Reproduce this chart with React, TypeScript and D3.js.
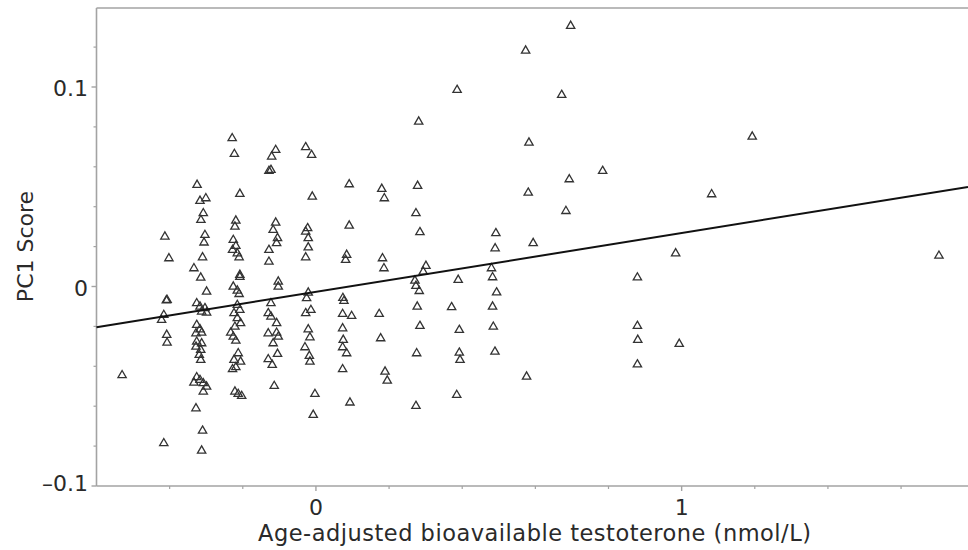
import React from "react";
import * as d3 from "d3";

// Age-adjusted bioavailable testosterone (nmol/L)
const bioT = [
  -0.530,
  -0.413, -0.402, -0.407, -0.409, -0.416, -0.422, -0.408, -0.407, -0.416,
  -0.325, -0.317, -0.301, -0.308, -0.3145, -0.3035, -0.306, -0.310, -0.3336, -0.315,
  -0.299, -0.326, -0.317, -0.3035, -0.3125, -0.299, -0.326, -0.317, -0.328, -0.3125,
  -0.326, -0.3125, -0.328, -0.315, -0.319, -0.315, -0.326, -0.317, -0.3336, -0.308,
  -0.299, -0.308, -0.328, -0.310, -0.3125,
  -0.229, -0.223, -0.208, -0.219, -0.2215, -0.226, -0.219, -0.228, -0.215, -0.210,
  -0.208, -0.208, -0.226, -0.215, -0.210, -0.215, -0.208, -0.224, -0.215, -0.206,
  -0.2215, -0.233, -0.226, -0.219, -0.2125, -0.224, -0.206, -0.219, -0.228, -0.2215,
  -0.2125, -0.203,
  -0.110, -0.121, -0.1285, -0.123, -0.110, -0.117, -0.105, -0.1075, -0.1285, -0.1285,
  -0.103, -0.103, -0.123, -0.1304, -0.123, -0.1075, -0.1304, -0.1075, -0.103, -0.117,
  -0.105, -0.1304, -0.1195, -0.114,
  -0.028, -0.0118, -0.010, -0.0227, -0.028, -0.021, -0.021, -0.028, -0.021, -0.0255,
  -0.0137, -0.028, -0.021, -0.0164, -0.030, -0.018, -0.0164, -0.0027, -0.0074,
  0.091, 0.091, 0.084, 0.0812, 0.0738, 0.0766, 0.073, 0.0976, 0.073, 0.0747,
  0.073, 0.084, 0.073, 0.093,
  0.180, 0.187, 0.182, 0.186, 0.173, 0.177, 0.189, 0.195,
  0.281, 0.278, 0.2735, 0.2844, 0.3008, 0.2934, 0.2707, 0.2735, 0.2825, 0.277,
  0.2844, 0.2754, 0.2735,
  0.386, 0.389, 0.371, 0.392, 0.392, 0.394, 0.385,
  0.492, 0.490, 0.480, 0.483, 0.494, 0.483, 0.485, 0.4895,
  0.5734, 0.5825, 0.5805, 0.594, 0.576,
  0.6965, 0.672, 0.6927, 0.6836, 0.784,
  0.879, 0.879, 0.880, 0.879, 0.9836, 0.9934, 1.082, 1.193, 1.7036,
];

// PC1 score
const pc1 = [
  -0.0445,
  0.0250, 0.0141, -0.0068, -0.0070, -0.0143, -0.0168, -0.0243, -0.0282, -0.0786,
  0.0509, 0.0429, 0.0442, 0.0367, 0.0333, 0.0258, 0.0220, 0.0146, 0.0091, 0.0044,
  -0.0026, -0.0084, -0.0101, -0.0109, -0.0126, -0.0131, -0.0193, -0.0215, -0.0235, -0.0232,
  -0.0277, -0.0285, -0.0302, -0.0318, -0.0343, -0.0368, -0.0455, -0.0469, -0.0482, -0.0485,
  -0.0502, -0.0527, -0.0611, -0.0723, -0.0823,
  0.0743, 0.0664, 0.0464, 0.0330, 0.0300, 0.0233, 0.0203, 0.0183, 0.0166, 0.0146,
  0.0058, 0.0048, -0.0001, -0.0021, -0.0038, -0.0093, -0.0118, -0.0134, -0.0159, -0.0184,
  -0.0202, -0.0232, -0.0252, -0.0272, -0.0335, -0.0368, -0.0377, -0.0405, -0.0415, -0.0527,
  -0.0539, -0.0549,
  0.0684, 0.0651, 0.0579, 0.0584, 0.0320, 0.0283, 0.0242, 0.0217, 0.0183, 0.0124,
  0.0024, -0.0001, -0.0084, -0.0134, -0.0151, -0.0184, -0.0235, -0.0232, -0.0252, -0.0285,
  -0.0338, -0.0365, -0.0393, -0.0499,
  0.0698, 0.0659, 0.0450, 0.0292, 0.0275, 0.0242, 0.0196, 0.0146, -0.0031, -0.0059,
  -0.0118, -0.0134, -0.0215, -0.0255, -0.0305, -0.0348, -0.0377, -0.0539, -0.0644,
  0.0512, 0.0305, 0.0158, 0.0133, -0.0058, -0.0073, -0.0138, -0.0148, -0.0210, -0.0268,
  -0.0305, -0.0335, -0.0415, -0.0582,
  0.0489, 0.0442, 0.0141, 0.0091, -0.0138, -0.0260, -0.0427, -0.0472,
  0.0826, 0.0504, 0.0367, 0.0272, 0.0103, 0.0074, 0.0029, 0.0003, -0.0023, -0.0101,
  -0.0198, -0.0335, -0.0599,
  0.0985, 0.0033, -0.0104, -0.0218, -0.0332, -0.0368, -0.0544,
  0.0267, 0.0191, 0.0091, 0.0046, -0.0030, -0.0101, -0.0202, -0.0327,
  0.1182, 0.0721, 0.0470, 0.0217, -0.0452,
  0.1306, 0.0960, 0.0537, 0.0378, 0.0579,
  0.0045, -0.0198, -0.0268, -0.0391, 0.0166, -0.0288, 0.0462, 0.0751, 0.0154,
];

// Fitted regression line
const fitIntercept = -0.0027;
const fitSlope = 0.0295;

const xDomain = [-0.6, 1.783];
const yDomain = [-0.1, 0.1396];
const xMajorTicks = [0, 1];
const xMinorTicks = [-0.4, -0.2, 0.2, 0.4, 0.6, 0.8, 1.2, 1.4, 1.6];
const yMajorTicks = [-0.1, 0, 0.1];
const yMinorTicks = [-0.08, -0.06, -0.04, -0.02, 0.02, 0.04, 0.06, 0.08, 0.12];
const xTitle = "Age-adjusted bioavailable testoterone (nmol/L)";
const yTitle = "PC1 Score";

const W = 968;
const H = 550;
const left = 96.5;
const right = 968;
const top = 8;
const bottom = 486;

export default function App() {
  const x = d3.scaleLinear().domain(xDomain).range([left, right]);
  const y = d3.scaleLinear().domain(yDomain).range([bottom, top]);
  const tri = d3.symbol().type(d3.symbolTriangle).size(30)();
  const line = d3
    .line<number>()
    .x((d) => x(d))
    .y((d) => y(fitIntercept + fitSlope * d));
  const axisColor = "#a3a3a3";
  const textColor = "#2a2a2a";
  const font = "DejaVu Sans, Verdana, sans-serif";
  const fmtY = (v: number) => (v === 0 ? "0" : v < 0 ? "\u2013" + Math.abs(v) : String(v));

  return (
    <svg
      width={W}
      height={H}
      style={{ position: "absolute", left: 0, top: 0, background: "#fff" }}
      fontFamily={font}
    >
      <rect x={0} y={0} width={W} height={H} fill="#fff" />
      {/* frame */}
      <line x1={left} x2={right} y1={top} y2={top} stroke={axisColor} strokeWidth={1.6} />
      <line x1={left} x2={left} y1={top} y2={bottom} stroke={axisColor} strokeWidth={1.6} />
      <line x1={left} x2={right} y1={bottom} y2={bottom} stroke={axisColor} strokeWidth={1.6} />
      {/* y ticks */}
      {yMajorTicks.map((t) => (
        <line key={"ym" + t} x1={left - 5} x2={left} y1={y(t)} y2={y(t)} stroke={axisColor} strokeWidth={1.4} />
      ))}
      {yMinorTicks.map((t) => (
        <line key={"yn" + t} x1={left - 3} x2={left} y1={y(t)} y2={y(t)} stroke={axisColor} strokeWidth={1.2} />
      ))}
      {yMajorTicks.map((t) => (
        <text
          key={"yl" + t}
          x={88}
          y={t === yDomain[0] ? y(t) + 4.5 : y(t) + 9}
          textAnchor="end"
          fontSize={22}
          fill={textColor}
        >
          {fmtY(t)}
        </text>
      ))}
      {/* x ticks */}
      {xMajorTicks.map((t) => (
        <line key={"xm" + t} x1={x(t)} x2={x(t)} y1={bottom} y2={bottom + 5} stroke={axisColor} strokeWidth={1.4} />
      ))}
      {xMinorTicks.map((t) => (
        <line key={"xn" + t} x1={x(t)} x2={x(t)} y1={bottom} y2={bottom + 3} stroke={axisColor} strokeWidth={1.2} />
      ))}
      {xMajorTicks.map((t) => (
        <text key={"xl" + t} x={x(t)} y={515} textAnchor="middle" fontSize={22} fill={textColor}>
          {String(t)}
        </text>
      ))}
      {/* titles */}
      <text
        x={258}
        y={541}
        textAnchor="start"
        fontSize={22.5}
        textLength={553}
        lengthAdjust="spacing"
        fill={textColor}
      >
        {xTitle}
      </text>
      <text
        transform={`translate(33, ${246.5}) rotate(-90)`}
        textAnchor="middle"
        fontSize={22}
        fill={textColor}
      >
        {yTitle}
      </text>
      {/* points */}
      <g fill="none" stroke="#333" strokeWidth={1.3}>
        {bioT.map((v, i) => (
          <path key={i} d={tri as string} transform={`translate(${x(v)},${y(pc1[i])})`} />
        ))}
      </g>
      {/* regression line */}
      <path d={line(xDomain) as string} fill="none" stroke="#111" strokeWidth={2} />
    </svg>
  );
}
